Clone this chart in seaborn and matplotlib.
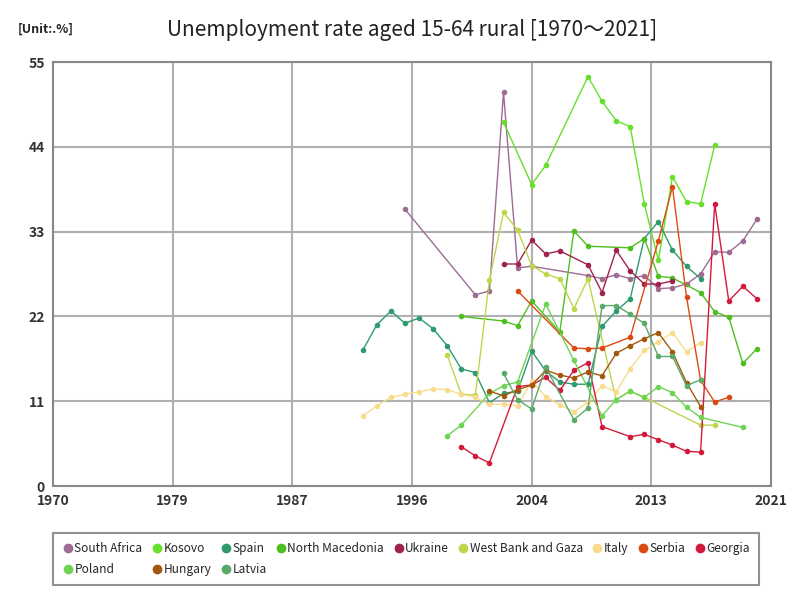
import seaborn as sns
import matplotlib.pyplot as plt
import pandas as pd
import numpy as np

# Values (year -> rate, %)
south_africa_years = [1995, 2000, 2001, 2002, 2003, 2004, 2008, 2009, 2010, 2011, 2012, 2013, 2014, 2015, 2016, 2017, 2018, 2019, 2020]
south_africa = [35.9, 24.8, 25.3, 51.1, 28.3, 28.5, 27.3, 26.9, 27.4, 26.9, 27.3, 25.6, 25.7, 26.2, 27.5, 30.4, 30.3, 31.8, 34.6]

kosovo_years = [2002, 2004, 2005, 2008, 2009, 2010, 2011, 2012, 2013, 2014, 2015, 2016, 2017]
kosovo = [47.2, 39.1, 41.6, 53.1, 49.9, 47.4, 46.6, 36.6, 29.3, 40.1, 36.9, 36.6, 44.2]

spain_years = [1992, 1993, 1994, 1995, 1996, 1997, 1998, 1999, 2000, 2001, 2002, 2003, 2004, 2005, 2006, 2007, 2008, 2009, 2010, 2011, 2012, 2013, 2014, 2015, 2016]
spain = [17.6, 20.9, 22.7, 21.1, 21.8, 20.4, 18.2, 15.2, 14.7, 10.8, 12.0, 12.3, 17.5, 14.9, 13.5, 13.2, 13.2, 20.7, 22.7, 24.3, 32.1, 34.3, 30.6, 28.5, 26.9]

macedonia_years = [1999, 2002, 2003, 2004, 2006, 2007, 2008, 2011, 2012, 2013, 2014, 2016, 2017, 2018, 2019, 2020]
macedonia = [22.0, 21.4, 20.8, 24.0, 20.0, 33.1, 31.1, 30.9, 32.1, 27.2, 27.0, 25.1, 22.6, 21.9, 15.9, 17.8]

ukraine_years = [2002, 2003, 2004, 2005, 2006, 2008, 2009, 2010, 2011, 2012, 2013, 2014]
ukraine = [28.8, 28.8, 31.9, 30.1, 30.5, 28.7, 25.1, 30.6, 27.9, 26.2, 26.2, 26.6]

wbg_years = [1998, 1999, 2000, 2001, 2002, 2003, 2004, 2005, 2006, 2007, 2008, 2010, 2011, 2012, 2016, 2017]
wbg = [17.0, 11.9, 11.8, 26.7, 35.5, 33.2, 28.6, 27.5, 26.9, 23.0, 26.9, 11.2, 12.3, 11.5, 7.9, 7.9]

italy_years = [1992, 1993, 1994, 1995, 1996, 1997, 1998, 1999, 2000, 2001, 2002, 2003, 2004, 2005, 2006, 2007, 2008, 2009, 2010, 2011, 2012, 2013, 2014, 2015, 2016]
italy = [9.1, 10.4, 11.5, 11.9, 12.2, 12.6, 12.5, 11.9, 11.5, 10.6, 10.6, 10.4, 13.6, 11.6, 10.5, 9.6, 10.9, 13.0, 12.2, 15.2, 17.6, 18.7, 19.9, 17.4, 18.6]

serbia_years = [2003, 2007, 2008, 2009, 2011, 2013, 2014, 2015, 2016, 2017, 2018]
serbia = [25.3, 17.9, 17.8, 17.9, 19.3, 31.8, 38.8, 24.5, 13.7, 10.9, 11.5]

georgia_years = [1999, 2000, 2001, 2003, 2004, 2005, 2006, 2007, 2008, 2009, 2011, 2012, 2013, 2014, 2015, 2016, 2017, 2018, 2019, 2020]
georgia = [5.1, 3.9, 3.0, 12.9, 13.1, 14.1, 12.4, 15.0, 16.0, 7.7, 6.4, 6.7, 6.0, 5.3, 4.5, 4.4, 36.6, 24.0, 25.9, 24.3]

poland_years = [1998, 1999, 2001, 2002, 2003, 2005, 2007, 2009, 2010, 2011, 2012, 2013, 2014, 2015, 2016, 2019]
poland = [6.5, 7.9, 12.0, 13.0, 13.5, 23.6, 16.3, 9.1, 11.2, 12.3, 11.5, 12.9, 12.1, 10.2, 8.9, 7.6]

hungary_years = [2001, 2002, 2003, 2004, 2005, 2006, 2007, 2008, 2009, 2010, 2011, 2012, 2013, 2014, 2015, 2016]
hungary = [12.3, 11.7, 12.5, 13.1, 15.0, 14.4, 14.0, 14.8, 14.3, 17.2, 18.2, 19.1, 19.9, 17.4, 13.4, 10.3]

latvia_years = [2002, 2003, 2004, 2005, 2007, 2008, 2009, 2010, 2011, 2012, 2013, 2014, 2015, 2016]
latvia = [14.6, 11.2, 10.0, 15.4, 8.6, 10.1, 23.4, 23.4, 22.3, 21.1, 16.8, 16.8, 13.0, 13.8]

countries = ["South Africa", "Kosovo", "Spain", "North Macedonia", "Ukraine", "West Bank and Gaza",
             "Italy", "Serbia", "Georgia", "Poland", "Hungary", "Latvia"]
colors = ["#9e6b93", "#66e02a", "#2e9a6e", "#4fbf20", "#a0234f", "#bcd84a",
          "#f8dc8e", "#dd4a10", "#d41a3c", "#6fd454", "#a4580f", "#5aaa6a"]

x_ticks = [1970, 1978.5, 1987, 1995.5, 2004, 2012.5, 2021]
x_tick_labels = ["1970", "1979", "1987", "1996", "2004", "2013", "2021"]
y_ticks = [0, 11, 22, 33, 44, 55]

series = [
    (south_africa_years, south_africa), (kosovo_years, kosovo), (spain_years, spain),
    (macedonia_years, macedonia), (ukraine_years, ukraine), (wbg_years, wbg),
    (italy_years, italy), (serbia_years, serbia), (georgia_years, georgia),
    (poland_years, poland), (hungary_years, hungary), (latvia_years, latvia),
]

frames = []
for name, (yrs, vals) in zip(countries, series):
    frames.append(pd.DataFrame({"Year": yrs, "Rate": vals, "Country": name}))
df = pd.concat(frames, ignore_index=True)

sns.set_style("white")
plt.rcParams['font.family'] = ['Noto Sans CJK JP', 'DejaVu Sans']

fig = plt.figure(figsize=(8, 6), dpi=100)
ax = fig.add_axes([53 / 800, 1 - 486 / 600, (771 - 53) / 800, (486 - 62) / 600])

sns.lineplot(
    data=df, x="Year", y="Rate", hue="Country",
    palette=dict(zip(countries, colors)), hue_order=countries,
    marker="o", markersize=4, markeredgewidth=0, linewidth=1,
    legend=False, ax=ax, sort=True, estimator=None,
)

ax.set_xlim(1970, 2021)
ax.set_ylim(0, 55)
ax.set_xticks(x_ticks)
ax.set_xticklabels(x_tick_labels, fontsize=10, fontweight="bold", color="#333333")
ax.set_yticks(y_ticks)
ax.set_yticklabels([str(v) for v in y_ticks], fontsize=10, fontweight="bold", color="#333333")
ax.tick_params(length=0, pad=6)
ax.grid(True, color="#b0b0b0", linewidth=1.5)
for s in ax.spines.values():
    s.set_color("#888888")
    s.set_linewidth(1.5)
ax.set_xlabel("")
ax.set_ylabel("")

fig.text(412 / 800, 1 - 30 / 600, "Unemployment rate aged 15-64 rural [1970～2021]",
         ha="center", va="center", fontsize=15, color="#222222")
fig.text(18 / 800, 1 - 29 / 600, "[Unit:.%]", ha="left", va="center",
         fontsize=9, fontweight="bold", color="#222222")

# Legend: reorder so matplotlib's column-major fill reads row by row
handles = [plt.Line2D([], [], marker="o", linestyle="", color=c, markersize=6) for c in colors]
order = [0, 9, 1, 10, 2, 11, 3, 4, 5, 6, 7, 8]
leg = fig.legend([handles[i] for i in order], [countries[i] for i in order],
                 loc="lower left", bbox_to_anchor=(47 / 800, 9 / 600), ncol=9,
                 fontsize=8.6, frameon=True, fancybox=False, handletextpad=0.05,
                 columnspacing=0.7, handlelength=1.0, borderpad=0.75, labelspacing=0.7)
leg.get_frame().set_edgecolor("#777777")
leg.get_frame().set_linewidth(1.5)

fig.savefig("out.png", dpi=100)
